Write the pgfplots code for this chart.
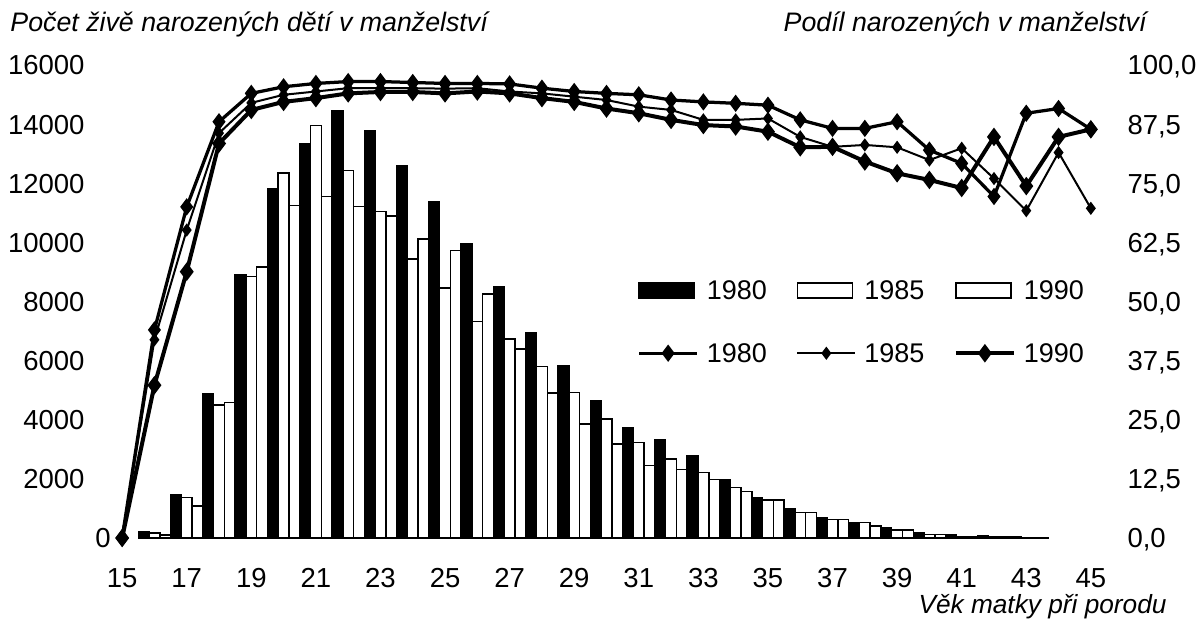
\documentclass[border=0pt]{standalone}
\usepackage{fontspec}
\setmainfont{Liberation Sans}
\usepackage{pgfplots}
\pgfplotsset{compat=1.18}
\usepackage{pgfplotstable}

\pgfplotsset{
  linelegend/.style={legend image code/.code={%
    \draw[mark repeat=2, mark phase=2, ##1] plot coordinates {(0pt,0.55pt) (11.6pt,0.55pt) (23.2pt,0.55pt)};}},
  barlegend/.style={legend image code/.code={%
    \draw[draw=black, line width=0.6pt, fill=#1] (0pt,-2.45pt) rectangle (22pt,3.55pt);}},
}

% live births in marriage by age of mother (bars, left axis)
\pgfplotstableread{
age b80 b85 b90
16 210 170 100
17 1455 1375 1080
18 4870 4500 4580
19 8900 8850 9170
20 11830 12340 11240
21 13350 13950 11550
22 14460 12430 11210
23 13770 11050 10890
24 12580 9440 10120
25 11390 8450 9720
26 9940 7320 8250
27 8490 6730 6390
28 6950 5800 4900
29 5820 4920 3860
30 4650 4020 3180
31 3740 3230 2450
32 3315 2670 2320
33 2775 2210 1985
34 1985 1700 1570
35 1365 1285 1285
36 1000 860 860
37 690 620 620
38 500 520 400
39 330 270 270
40 190 120 120
41 100 50 50
42 70 30 30
43 30 20 20
}\births

% share born in marriage, % (lines, right axis)
\pgfplotstableread{
age p80 p85 p90
15 0 0 0
16 44.0 41.9 32.3
17 70.0 65.1 56.3
18 88.0 85.6 83.4
19 94.0 92.0 90.5
20 95.4 93.7 92.2
21 96.1 94.4 93.0
22 96.5 95.1 94.0
23 96.5 95.1 94.3
24 96.3 95.1 94.3
25 96.1 95.0 94.0
26 96.1 95.1 94.4
27 96.0 94.4 94.0
28 95.1 94.0 93.0
29 94.4 93.3 92.2
30 94.0 92.6 90.8
31 93.7 91.2 89.8
32 92.6 90.5 88.4
33 92.2 88.4 87.3
34 91.9 88.4 87.0
35 91.5 88.7 85.9
36 88.4 84.8 82.6
37 86.6 82.7 82.7
38 86.6 83.1 79.6
39 88.0 82.6 77.1
40 82.0 79.9 75.7
41 79.2 82.4 74.0
42 72.2 76.0 84.8
43 89.8 69.2 74.4
44 90.8 81.5 84.8
45 86.4 69.7 86.4
}\share

\begin{document}
\begin{tikzpicture}
\useasboundingbox (-42.4pt,-34.4pt) rectangle (438pt,215.2pt);

\begin{axis}[
    at={(0pt,0pt)}, anchor=south west,
    scale only axis,
    width=400.4pt, height=189.2pt,
    xmin=14.5, xmax=45.5,
    ymin=0, ymax=16000,
    axis x line*=bottom,
    axis y line*=left,
    axis line style={draw=none},
    major tick length=0pt,
    scaled y ticks=false,
    xtick={15,17,...,45},
    ytick={2000,4000,...,16000},
    yticklabels={2000,4000,6000,8000,10000,12000,14000,16000},
    /pgf/number format/assume math mode=true,
    ticklabel style={font=\fontsize{11}{13}\selectfont, inner sep=0pt},
    xticklabel style={anchor=base, yshift=-19.6pt},
    yticklabel style={anchor=east, xshift=-8.4pt, text height=7.9pt, text depth=0pt},
    clip=false,
]
\addplot[ybar, bar width=0.3333, bar shift=-0.3333, fill=black, draw=black, line width=0.6pt]
    table[x=age, y=b80] {\births};
\addplot[ybar, bar width=0.3333, bar shift=0, fill=white, draw=black, line width=0.6pt]
    table[x=age, y=b85] {\births};
\addplot[ybar, bar width=0.3333, bar shift=0.3333, fill=white, draw=black, line width=0.6pt]
    table[x=age, y=b90] {\births};
\draw[line width=0.7pt] (axis cs:15.5,0) -- (axis cs:43.7,0);
\end{axis}

\begin{axis}[
    at={(0pt,0pt)}, anchor=south west,
    scale only axis,
    width=400.4pt, height=189.2pt,
    xmin=14.5, xmax=45.5,
    ymin=0, ymax=100,
    axis x line=none,
    axis y line*=right,
    axis line style={draw=none},
    major tick length=0pt,
    ytick={0,12.5,...,100},
    yticklabels={{0,0},{12,5},{25,0},{37,5},{50,0},{62,5},{75,0},{87,5},{100,0}},
    ticklabel style={font=\fontsize{11}{13}\selectfont, inner sep=0pt},
    yticklabel style={anchor=west, xshift=8pt, text height=7.9pt, text depth=0pt},
    clip=false,
    legend columns=3,
    legend cell align=left,
    legend style={at={(0.5305,0.545)}, anchor=north west, draw=none, fill=none,
        inner sep=0pt, font=\fontsize{10.8}{12}\selectfont,
        nodes={inner sep=0pt},
        row sep=16pt, column sep=3.2pt,
        /tikz/column 2/.style={column sep=11.8pt},
        /tikz/column 4/.style={column sep=11.8pt}},
]
\addlegendimage{barlegend=black}
\addlegendentry{1980}
\addlegendimage{barlegend=white}
\addlegendentry{1985}
\addlegendimage{barlegend=white}
\addlegendentry{1990}

\addplot[black, line width=1.3pt, mark=diamond*, mark size=2.4pt, linelegend]
    table[x=age, y=p80] {\share};
\addlegendentry{1980}
\addplot[black, line width=0.8pt, mark=diamond*, mark size=2pt, linelegend]
    table[x=age, y=p85] {\share};
\addlegendentry{1985}
\addplot[black, line width=1.6pt, mark=diamond*, mark size=2.4pt, linelegend]
    table[x=age, y=p90] {\share};
\addlegendentry{1990}
\end{axis}

\node[anchor=base, inner sep=0pt, font=\fontsize{11}{13}\selectfont] at (-1.2pt,-3.95pt) {0};
\node[anchor=base west, inner sep=0pt, font=\fontsize{10.7}{12}\selectfont\itshape]
    at (-38.4pt,202.5pt) {Počet živě narozených dětí v manželství};
\node[anchor=base east, inner sep=0pt, font=\fontsize{10.7}{12}\selectfont\itshape]
    at (416.4pt,202.5pt) {Podíl narozených v manželství};
\node[anchor=base west, inner sep=0pt, font=\fontsize{10.5}{12}\selectfont\itshape]
    at (324.8pt,-30pt) {Věk matky při porodu};
\end{tikzpicture}
\end{document}
